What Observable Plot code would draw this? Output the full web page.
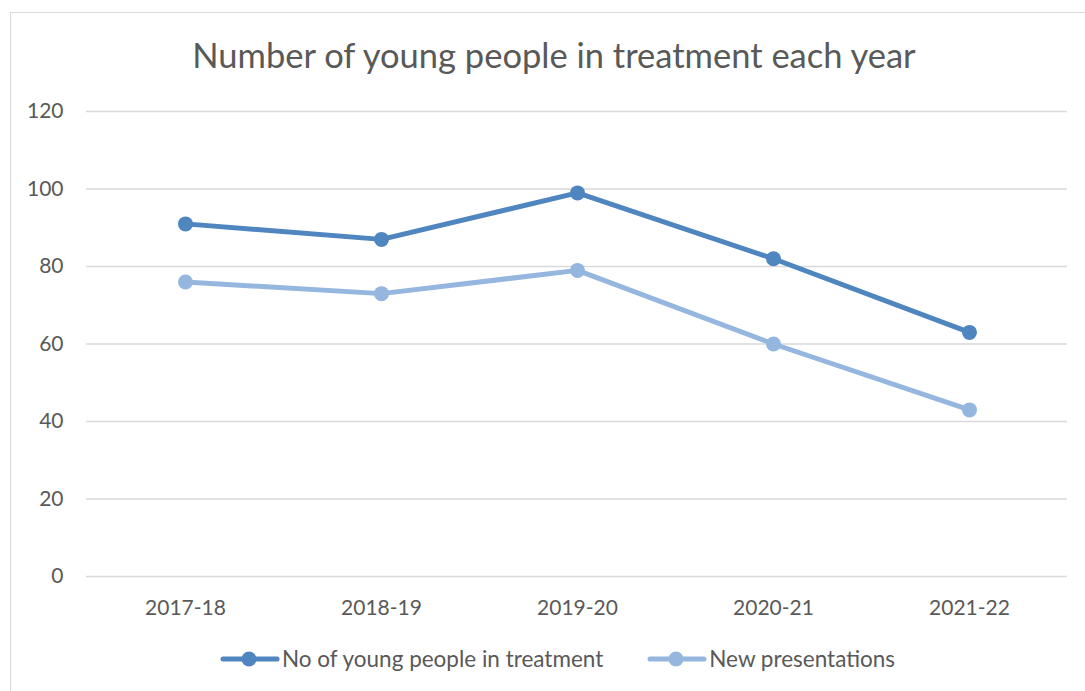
<!DOCTYPE html>
<html>
<head>
<meta charset="utf-8">
<script src="https://cdn.jsdelivr.net/npm/d3@7"></script>
<script src="https://cdn.jsdelivr.net/npm/@observablehq/plot@0.6"></script>
<style>
  body { margin: 0; background: #fff; font-family: Lato, "Open Sans", sans-serif; overflow: hidden; }
  #frame { position: absolute; left: 10px; top: 12px; width: 1100px; height: 700px; border: 1.5px solid #d9d9d9; box-sizing: border-box; }
  #title { position: absolute; left: 0; width: 1108px; top: 34px; text-align: center; font-size: 34.5px; color: #595959; white-space: nowrap; }
  #chart { position: absolute; left: 0; top: 0; }
  #legend { position: absolute; left: 220px; top: 645px; display: flex; align-items: center; font-size: 22.5px; color: #595959; white-space: nowrap; }
  .item { display: flex; align-items: center; margin-right: 44px; }
  .item svg { margin-right: 2px; }
</style>
</head>
<body>
<div id="frame"></div>
<div id="title">Number of young people in treatment each year</div>
<div id="chart"></div>
<div id="legend"></div>
<script>
const years = ["2017-18", "2018-19", "2019-20", "2020-21", "2021-22"];
const seriesNames = ["No of young people in treatment", "New presentations"];
const treatment = [91, 87, 99, 82, 63];
const presentations = [76, 73, 79, 60, 43];
const colors = ["#4f86bf", "#95b6de"];
const yTicks = [0, 20, 40, 60, 80, 100, 120];

const data = [];
years.forEach((y, i) => {
  data.push({year: y, value: treatment[i], series: seriesNames[0]});
  data.push({year: y, value: presentations[i], series: seriesNames[1]});
});

const plot = Plot.plot({
  width: 1085,
  height: 691,
  marginLeft: 86,
  marginRight: 18,
  marginTop: 111,
  marginBottom: 115,
  style: {fontFamily: "Lato, 'Open Sans', sans-serif", fontSize: "21px", color: "#595959", background: "transparent"},
  x: {type: "point", domain: years, padding: 0.5, label: null},
  y: {domain: [0, 120], label: null},
  color: {domain: seriesNames, range: colors},
  marks: [
    Plot.ruleY(yTicks, {stroke: "#d9d9d9", strokeWidth: 1.5}),
    Plot.axisY({ticks: yTicks, tickSize: 0, tickPadding: 23, label: null, fontSize: 21}),
    Plot.axisX({tickSize: 0, tickPadding: 24, label: null, fontSize: 21}),
    Plot.lineY(data, {x: "year", y: "value", z: "series", stroke: "series", strokeWidth: 5, strokeLinecap: "round"}),
    Plot.dot(data, {x: "year", y: "value", fill: "series", r: 7.5})
  ]
});
document.getElementById("chart").appendChild(plot);

const legend = document.getElementById("legend");
seriesNames.forEach((name, i) => {
  const item = document.createElement("div");
  item.className = "item";
  item.innerHTML = `<svg width="60" height="20"><line x1="3" x2="57" y1="10" y2="10" stroke="${colors[i]}" stroke-width="5" stroke-linecap="round"/><circle cx="29" cy="10" r="7.5" fill="${colors[i]}"/></svg><span>${name}</span>`;
  legend.appendChild(item);
});
</script>
</body>
</html>
